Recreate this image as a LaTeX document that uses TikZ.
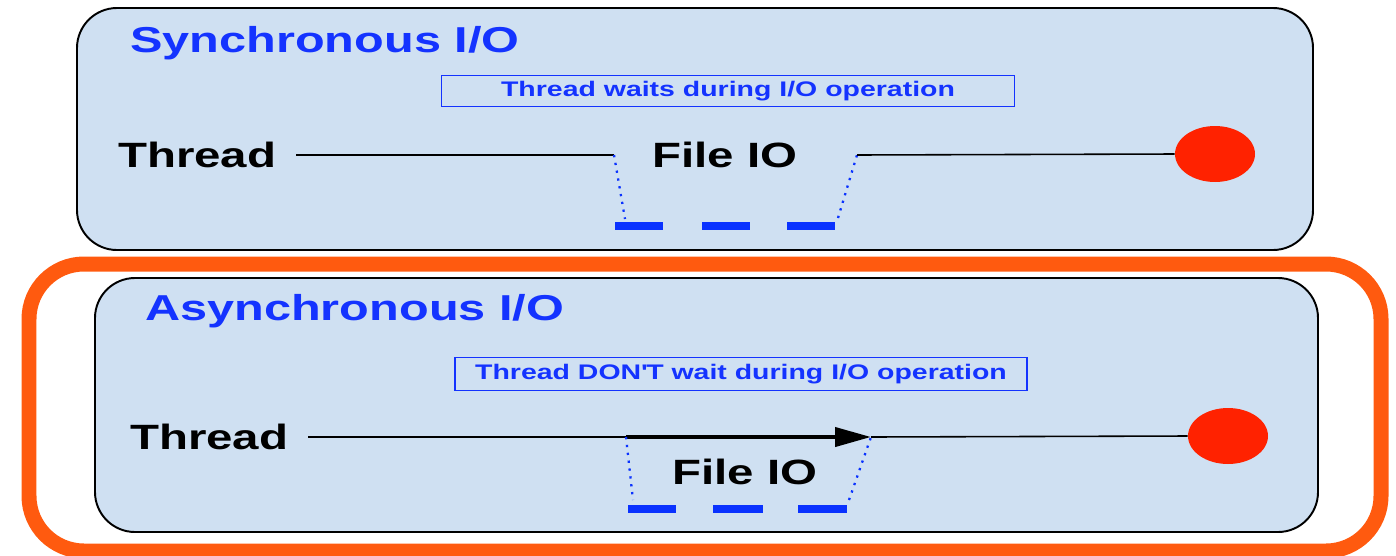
\documentclass[tikz,border=0pt]{standalone}
\usepackage{fontspec}
\setmainfont{Liberation Sans}[FakeStretch=1.35]
\usepackage{xcolor}
\usepackage{tikz}
\usetikzlibrary{arrows.meta,shapes.geometric}
\definecolor{panelfill}{HTML}{CFE0F2}
\definecolor{titleblue}{HTML}{1433FF}
\definecolor{dashblue}{HTML}{0A32FF}
\definecolor{frameorange}{HTML}{FF5A0F}
\definecolor{dotred}{HTML}{FF2200}
\tikzset{
  panel/.style={draw=black, line width=1.1pt, fill=panelfill, rounded corners=0.8cm},
  frame/.style={draw=frameorange, line width=0.3cm, rounded corners=1.1cm},
  title/.style={anchor=base west, inner sep=0pt, text=titleblue, font=\fontsize{20.5}{24}\selectfont\bfseries},
  note/.style={draw=titleblue, line width=0.9pt, text=titleblue, minimum width=11.46cm, minimum height=0.62cm, inner sep=0pt, font=\fontsize{12}{14}\selectfont\bfseries},
  lbl/.style={inner xsep=11pt, inner ysep=4pt, font=\fontsize{20}{24}\selectfont\bfseries},
  wire/.style={line width=0.9pt},
  flow/.style={line width=2.3pt, -{Triangle[length=0.72cm, width=0.38cm]}},
  drop/.style={draw=dashblue, line width=1.3pt, dash pattern=on 1.3pt off 3.2pt},
  waitbar/.style={draw=dashblue, line width=0.16cm},
  dot/.style={ellipse, fill=dotred, minimum width=1.6cm, minimum height=1.12cm, inner sep=0pt}
}
\begin{document}
\begin{tikzpicture}[x=0.02cm, y=-0.02cm]
  \useasboundingbox (0,0) rectangle (1396,555);
  \draw[panel] (77,8) rectangle (1313,250);
  \draw[frame] (29,264) rectangle (1381,551);
  \draw[panel] (95,278) rectangle (1318,532);

  \node[title] (syncT) at (130,52) {Synchronous I/O};
  \node[note] (syncN) at (728,91) {Thread waits during I/O operation};
  \node[lbl, anchor=east] (thrA) at (296,155) {Thread};
  \node[lbl] (fileA) at (725,155) {File IO};
  \node[dot] (endA) at (1215,154) {};
  \coordinate (a1) at (614,155);
  \coordinate (a2) at (625,219);
  \coordinate (a3) at (838,218);
  \coordinate (a4) at (857,155);
  \draw[wire] (thrA.east) -- (a1);
  \draw[drop] (a1) -- (a2);
  \draw[drop] (a3) -- (a4);
  \draw[wire] (a4) -- (endA.west);
  \draw[waitbar] (615,226) -- (663,226);
  \draw[waitbar] (702,226) -- (750,226);
  \draw[waitbar] (787,226) -- (835,226);

  \node[title] (asyncT) at (145,320) {Asynchronous I/O};
  \node[note, minimum width=11.44cm, minimum height=0.66cm] (asyncN) at (741,374) {Thread DON\textquotesingle T wait during I/O operation};
  \node[lbl, anchor=east] (thrB) at (308,437) {Thread};
  \node[lbl] (fileB) at (745,472) {File IO};
  \node[dot] (endB) at (1228,436) {};
  \coordinate (b1) at (626,437);
  \coordinate (b2) at (633,500);
  \coordinate (b3) at (849,500);
  \coordinate (b4) at (871,437);
  \draw[wire] (thrB.east) -- (b1);
  \draw[flow] (b1) -- (b4);
  \draw[wire] (b4) -- (endB.west);
  \draw[drop] (b1) -- (b2);
  \draw[drop] (b3) -- (b4);
  \draw[waitbar] (628,509) -- (676,509);
  \draw[waitbar] (713,509) -- (763,509);
  \draw[waitbar] (798,509) -- (847,509);
\end{tikzpicture}
\end{document}
